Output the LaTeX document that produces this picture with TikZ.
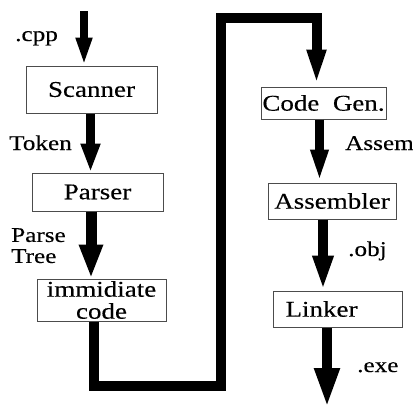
\documentclass[tikz,border=0pt]{standalone}
\usepackage{fontspec}
\newfontfamily\diagfont[FakeStretch=1.2,FakeBold=0.3]{Liberation Serif}
\usetikzlibrary{arrows.meta}
\begin{document}
\begin{tikzpicture}[x=1pt,y=-1pt,
  stage/.style={draw=black!70, line width=1pt, fill=white, inner sep=0pt,
    font=\diagfont\fontsize{22.5}{22}\selectfont},
  lbl/.style={inner sep=0pt, font=\diagfont\fontsize{21}{21}\selectfont,
    anchor=base west},
  flow/.style={line width=#1, draw=black},
]
\useasboundingbox (0,0) rectangle (413,407);

% compiler stages
\node[stage, minimum width=131pt, minimum height=47pt] (scanner) at (91.5,89.5) {Scanner};
\node[stage, minimum width=131pt, minimum height=38pt] (parser) at (97.5,192) {Parser};
\node[stage, align=center, minimum width=129pt, minimum height=42pt] (imm) at (101.5,300) {immidiate\\code};
\node[stage, minimum width=125pt, minimum height=32pt] (codegen) at (323.5,103) {Code\ \ Gen.};
\node[stage, minimum width=128pt, minimum height=36pt] (asm) at (332,201) {Assembler};
\node[stage, minimum width=129pt, minimum height=36pt] (linker) at (337.5,309) {\hspace*{-32pt}Linker};

% free ends and bends of the flow
\coordinate (src) at (84,11);
\coordinate (b1) at (94,386);
\coordinate (b2) at (220.5,386);
\coordinate (t1) at (220.5,17.5);
\coordinate (t2) at (316.5,17.5);
\coordinate (out) at (327,408);

% flow arrows
\draw[flow=8pt, -{Triangle[width=15pt,length=28pt]}] (src) -- ([xshift=-7.5pt]scanner.north);
\draw[flow=9pt, -{Triangle[width=18pt,length=29pt]}] ([xshift=-1pt]scanner.south) -- ([xshift=-7pt]parser.north);
\draw[flow=11pt, -{Triangle[width=22pt,length=34pt]}] ([xshift=-6.5pt]parser.south) -- ([xshift=-10.5pt]imm.north);
\draw[flow=10pt, line join=miter, -{Triangle[width=17pt,length=37pt]}]
  (imm.south -| b1) -- (b1) -- (b2) -- (t1) -- (t2) -- ([xshift=-7pt]codegen.north);
\draw[flow=9pt, -{Triangle[width=16pt,length=33pt]}] ([xshift=-4pt]codegen.south) -- ([xshift=-12.5pt]asm.north);
\draw[flow=10pt, -{Triangle[width=19pt,length=35pt]}] ([xshift=-9pt]asm.south) -- ([xshift=-14.5pt]linker.north);
\draw[flow=10pt, -{Triangle[width=23pt,length=40pt]}] ([xshift=-10.5pt]linker.south) -- (out);

% labels of the data passed between stages
\node[lbl] (lcpp) at (15,41) {.cpp};
\node[lbl] (ltok) at (9,150) {Token};
\node[lbl, align=left, anchor=north west] (lparse) at (11,228) {Parse\\Tree};
\node[lbl] (lasm) at (345,150) {Assem};
\node[lbl] (lobj) at (348,256) {.obj};
\node[lbl] (lexe) at (357,372) {.exe};
\end{tikzpicture}
\end{document}
